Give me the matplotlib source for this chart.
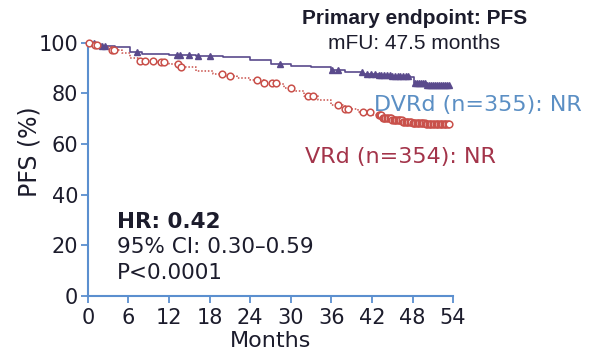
import matplotlib
matplotlib.use("Agg")
import matplotlib.pyplot as plt
import numpy as np

# Kaplan-Meier step values (months, PFS %)
dvrd_t = [0, 1, 2, 4, 6.2, 8, 12, 16, 20, 24, 27, 30, 33, 36, 38, 40.7, 43, 45, 47.6, 48.2, 50, 53.5]
dvrd_s = [100, 99.5, 98.8, 98.3, 96.2, 95.5, 95.0, 94.7, 94.3, 93.3, 91.8, 91.0, 90.3, 89.3, 88.6, 87.7, 87.2, 86.9, 86.5, 84.0, 83.5, 83.3]
dvrd_cens = [0.9, 2.1, 2.5, 7.2, 13.2, 13.6, 15.0, 16.3, 18.0, 28.4, 36.1, 37.0, 40.6, 41.2, 41.8, 42.4,
             43.0, 43.4, 43.8, 44.2, 44.6, 45.0, 45.4, 45.8, 46.2, 46.6, 47.0, 47.4,
             48.3, 48.6, 48.9, 49.2, 49.5, 49.8, 50.1, 50.4, 50.7, 51.0, 51.3, 51.6, 51.9,
             52.2, 52.5, 52.8, 53.1, 53.4]

vrd_t = [0, 0.5, 2, 3.5, 5, 6.2, 7.5, 10, 12, 13.5, 16, 18.5, 20, 22, 24, 26, 28, 29, 30.5, 32, 34, 36, 38, 40, 42, 43.5, 45, 46.5, 48, 50, 53.5]
vrd_s = [100, 99, 98.5, 97, 96, 94, 93, 92.4, 91.5, 90.6, 89, 87.8, 87, 86.3, 85.5, 84.3, 83.7, 82, 81, 79, 77.5, 75.5, 74, 72.5, 71.5, 70.5, 69.5, 68.6, 68.3, 68.1, 68]
vrd_cens = [0.1, 1.0, 1.4, 3.5, 3.9, 7.7, 8.4, 9.6, 10.8, 11.3, 13.3, 13.7, 19.8, 21.0, 25.0, 26.0, 27.2, 27.8,
            30.1, 32.6, 33.3, 37.0, 38.0, 38.5, 40.7, 41.7, 43.0, 43.2, 43.4, 43.6, 43.8, 44.0, 44.2,
            44.4, 44.6, 44.8, 45.0, 45.2, 45.4, 45.6, 45.8, 46.0, 46.2, 46.4, 46.6, 46.8, 47.0, 47.2,
            47.4, 47.6, 47.8, 48.0, 48.2, 48.4, 48.6, 48.8, 49.0, 49.2, 49.4, 49.6, 49.8, 50.0, 50.2,
            50.4, 50.6, 50.8, 51.0, 51.2, 51.4, 51.6, 51.8, 52.0, 52.2, 52.4, 52.6, 52.8, 53.0, 53.2,
            53.4]

x_ticks = [0, 6, 12, 18, 24, 30, 36, 42, 48, 54]
y_ticks = [0, 20, 40, 60, 80, 100]

purple = "#5a4a8c"
red = "#c9504a"
axis_blue = "#5b8fcf"
dark = "#1c1c2c"


def step_at(t_list, s_list, times):
    t = np.array(t_list)
    s = np.array(s_list)
    idx = np.searchsorted(t, times, side="right") - 1
    return s[np.clip(idx, 0, len(s) - 1)]


fig = plt.figure(figsize=(5.9, 3.54), dpi=100)
ax = fig.add_axes([0.149, 0.164, 0.619, 0.715])

ax.step(dvrd_t, dvrd_s, where="post", color=purple, linewidth=1.2, zorder=3)
ax.plot(dvrd_cens, step_at(dvrd_t, dvrd_s, dvrd_cens), linestyle="none", marker="^",
        markersize=4.5, color=purple, clip_on=False, zorder=4)

ax.step(vrd_t, vrd_s, where="post", color=red, linewidth=1.1, linestyle=(0, (1, 1.2)), zorder=3)
ax.plot(vrd_cens, step_at(vrd_t, vrd_s, vrd_cens), linestyle="none", marker="o",
        markersize=4.8, markerfacecolor="white", markeredgecolor=red, markeredgewidth=1.1,
        clip_on=False, zorder=4)

ax.set_xlim(0, 54)
ax.set_ylim(0, 100)
ax.set_xticks(x_ticks)
ax.set_yticks(y_ticks)
ax.tick_params(axis="both", colors=axis_blue, labelcolor=dark, labelsize=15,
               length=5, width=1.3, direction="out")
ax.tick_params(axis="y", pad=2)
ax.tick_params(axis="x", pad=4)
for side in ["top", "right"]:
    ax.spines[side].set_visible(False)
for side in ["left", "bottom"]:
    ax.spines[side].set_color(axis_blue)
    ax.spines[side].set_linewidth(1.5)

ax.set_xlabel("Months", fontsize=16, color=dark, labelpad=1.5)
ax.set_ylabel("PFS (%)", fontsize=17, color=dark)
ax.yaxis.set_label_coords(-0.126, 0.571)

fig.text(0.702, 0.949, "Primary endpoint: PFS", ha="center", va="center",
         fontsize=15, fontweight="bold", family="Liberation Sans", color=dark)
fig.text(0.702, 0.878, "mFU: 47.5 months", ha="center", va="center",
         fontsize=15, family="Liberation Sans", color=dark)

fig.text(0.634, 0.703, "DVRd (n=355): NR", ha="left", va="center", fontsize=16, color="#5b8fc4")
fig.text(0.517, 0.557, "VRd (n=354): NR", ha="left", va="center", fontsize=16, color="#a3344a")

fig.text(0.198, 0.373, "HR: 0.42", ha="left", va="center", fontsize=15.5, fontweight="bold", color=dark)
fig.text(0.198, 0.302, "95% CI: 0.30\u20130.59", ha="left", va="center", fontsize=15.5, color=dark)
fig.text(0.198, 0.229, "P<0.0001", ha="left", va="center", fontsize=15.5, color=dark)

fig.savefig("out.png", dpi=100)
